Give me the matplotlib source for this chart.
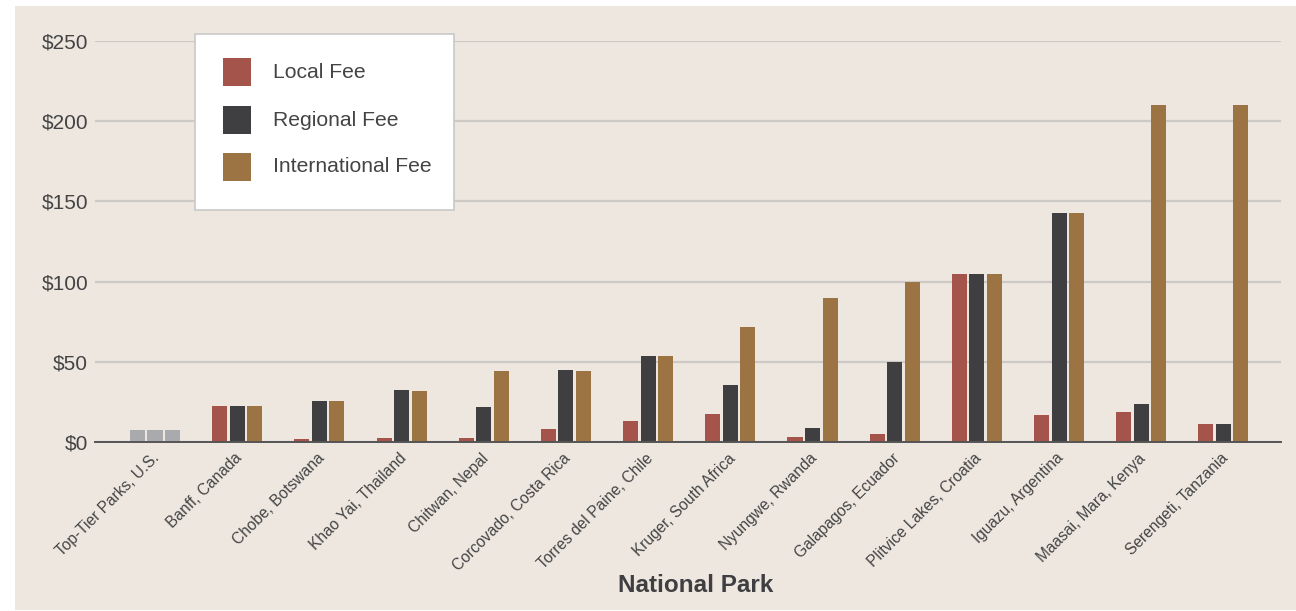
import matplotlib
matplotlib.use("Agg")
import matplotlib.pyplot as plt
import matplotlib.transforms as mtransforms
import numpy as np
from matplotlib.patches import Rectangle

parks = ["Top-Tier Parks, U.S.", "Banff, Canada", "Chobe, Botswana", "Khao Yai, Thailand",
         "Chitwan, Nepal", "Corcovado, Costa Rica", "Torres del Paine, Chile",
         "Kruger, South Africa", "Nyungwe, Rwanda", "Galapagos, Ecuador",
         "Plitvice Lakes, Croatia", "Iguazu, Argentina", "Maasai, Mara, Kenya",
         "Serengeti, Tanzania"]
local_fee = [7.5, 22.5, 2, 2.5, 2.5, 8, 13, 17.5, 3, 5, 105, 17, 19, 11]
regional_fee = [7.5, 22.5, 25.5, 32.5, 22, 45, 53.5, 35.5, 9, 50, 105, 142.5, 23.5, 11.5]
international_fee = [7.5, 22.5, 25.5, 32, 44.5, 44.5, 53.5, 71.5, 89.5, 99.5, 105, 142.5, 210, 210]
series_names = ["Local Fee", "Regional Fee", "International Fee"]
series_colors = ["#a5544b", "#3f3f41", "#9c7444"]
us_color = "#a9aaad"
yticks = [0, 50, 100, 150, 200, 250]

W, H = 1296, 611
fig = plt.figure(figsize=(W / 100, H / 100), dpi=100, facecolor="white")
plt.rcParams['font.family'] = ['Liberation Sans', 'DejaVu Sans']

bg = "#eee7e0"
fig.patches.append(Rectangle((15 / W, 1 / H), 1 - 15 / W, 604 / H, transform=fig.transFigure,
                             facecolor=bg, edgecolor="none", zorder=-10))

ax = fig.add_axes([95 / W, (H - 442) / H, (1281 - 95) / W, (442 - 41) / H])
ax.set_facecolor("none")

x = np.arange(len(parks))
bw = 0.183
offs = [-0.213, 0, 0.213]
data = [local_fee, regional_fee, international_fee]
for k, (vals, col) in enumerate(zip(data, series_colors)):
    cols = [us_color if i == 0 else col for i in range(len(parks))]
    ax.bar(x + offs[k], vals, width=bw, color=cols, zorder=3, linewidth=0)

ax.set_xlim(-0.73, 13.7)
ax.set_ylim(0, 250)
ax.set_yticks(yticks)
ax.set_yticklabels([f"${v}" for v in yticks], fontsize=15, color="#444444")
ax.tick_params(axis="y", length=0, pad=5)
ax.tick_params(axis="x", length=0, pad=4)
ax.set_xticks(x)
ax.set_xticklabels(parks, rotation=45, ha="right", va="top", rotation_mode="anchor",
                   fontsize=11.2, color="#444444")
shift = mtransforms.ScaledTranslation(-3 / 100, -3 / 100, fig.dpi_scale_trans)
for lab in ax.get_xticklabels():
    lab.set_transform(lab.get_transform() + shift)
ax.grid(axis="y", color="#cdcac5", linewidth=1.6, zorder=1)
ax.grid(axis="x", visible=False)
for s in ["top", "right", "left"]:
    ax.spines[s].set_visible(False)
ax.spines["bottom"].set_color("#555555")
ax.spines["bottom"].set_linewidth(1.4)
ax.spines["bottom"].set_zorder(4)

fig.text(696 / W, 1 - 585 / H, "National Park", ha="center", va="center",
         fontsize=17.5, fontweight="bold", color="#3f3f41")

# legend box
fig.patches.append(Rectangle((195 / W, 1 - 210 / H), 259 / W, 176 / H, transform=fig.transFigure,
                             facecolor="white", edgecolor="#c8c8c8", linewidth=1.2, zorder=5))
row_y = [72, 120, 167]
for name, col, yy in zip(series_names, series_colors, row_y):
    fig.patches.append(Rectangle((223 / W, 1 - (yy + 14) / H), 28 / W, 28 / H,
                                 transform=fig.transFigure, facecolor=col, edgecolor="none", zorder=6))
    fig.text(273 / W, 1 - yy / H, name, ha="left", va="center", fontsize=15.2,
             color="#444444", zorder=7)

fig.savefig("out.png", dpi=100, facecolor="white")
